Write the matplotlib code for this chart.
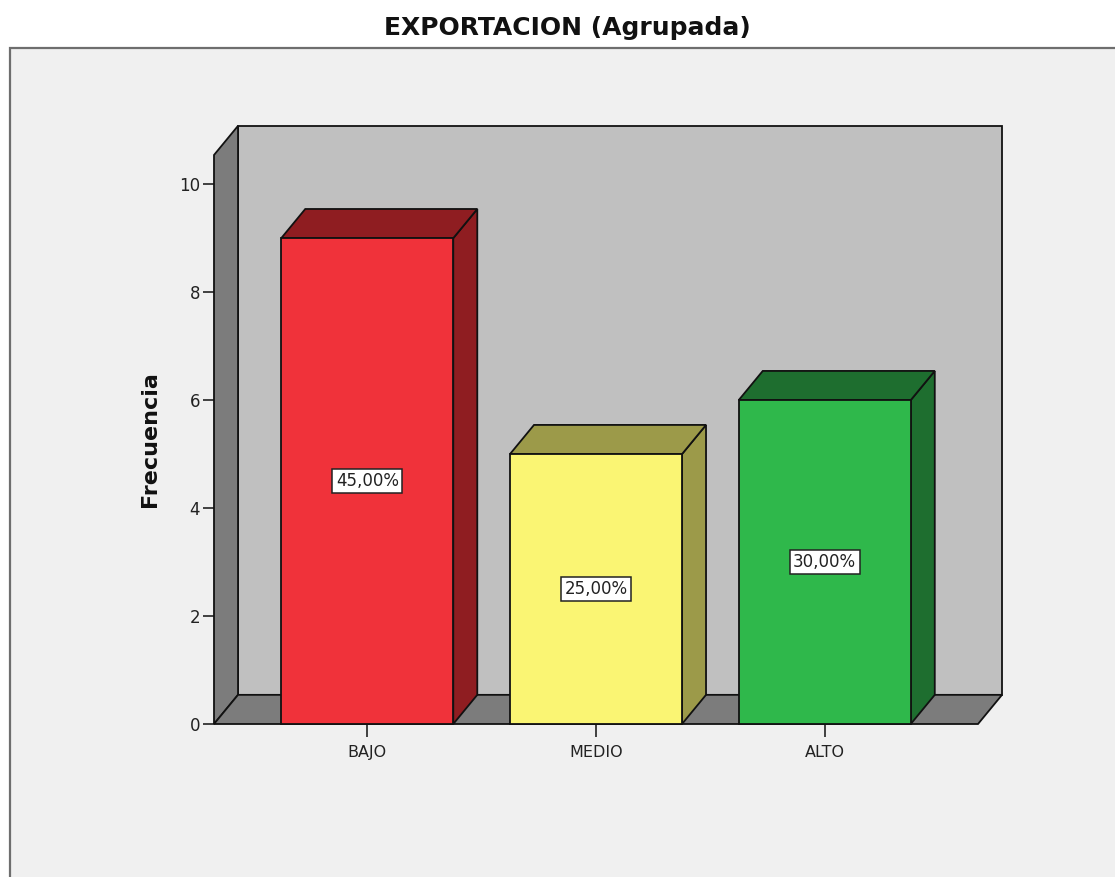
import matplotlib.pyplot as plt
from matplotlib.patches import Polygon, Rectangle

categorias = ['BAJO', 'MEDIO', 'ALTO']
frecuencias = [9, 5, 6]
porcentajes = ['45,00%', '25,00%', '30,00%']
yticks = [0, 2, 4, 6, 8, 10]

color_frente = ['#f0323a', '#faf573', '#2fb84b']
color_lado = ['#8f1d21', '#9c9a49', '#1e6e2f']

W, H = 1115, 877
fig = plt.figure(figsize=(W / 100, H / 100), dpi=100)
fig.patch.set_facecolor('white')

# panel gris de fondo
fig.add_artist(Rectangle((10 / W, -0.05), 1.2, (H - 48) / H + 0.05,
                         transform=fig.transFigure, facecolor='#f0f0f0',
                         edgecolor='#6e6e6e', lw=1.6, zorder=0))

fig.text(567 / W, 1 - 28 / H, 'EXPORTACION (Agrupada)', ha='center', va='center',
         fontsize=18, weight='bold', color='#111111')

ax = fig.add_axes([214 / W, (H - 724) / H, (978 - 214) / W, (724 - 155) / H])
ax.set_facecolor('none')
x0, x1 = -0.67, 2.67
ytop = 10.54
ax.set_xlim(x0, x1)
ax.set_ylim(0, ytop)
for s in ax.spines.values():
    s.set_visible(False)

# profundidad del efecto 3D (en unidades de datos)
dx, dy = 0.105, 0.54
ancho = 0.752
ec = dict(edgecolor='#111111', lw=1.3, joinstyle='miter', clip_on=False)

# pared del fondo, pared izquierda y suelo
ax.add_patch(Polygon([(x0 + dx, dy), (x1 + dx, dy), (x1 + dx, ytop + dy), (x0 + dx, ytop + dy)],
                     facecolor='#c0c0c0', zorder=1, **ec))
ax.add_patch(Polygon([(x0, 0), (x0 + dx, dy), (x0 + dx, ytop + dy), (x0, ytop)],
                     facecolor='#7c7c7c', zorder=2, **ec))
ax.add_patch(Polygon([(x0, 0), (x1, 0), (x1 + dx, dy), (x0 + dx, dy)],
                     facecolor='#7c7c7c', zorder=2, **ec))

for i, (v, p) in enumerate(zip(frecuencias, porcentajes)):
    l, r = i - ancho / 2, i + ancho / 2
    ax.add_patch(Polygon([(r, 0), (r + dx, dy), (r + dx, v + dy), (r, v)],
                         facecolor=color_lado[i], zorder=3, **ec))
    ax.add_patch(Polygon([(l, v), (r, v), (r + dx, v + dy), (l + dx, v + dy)],
                         facecolor=color_lado[i], zorder=3, **ec))
    ax.add_patch(Rectangle((l, 0), ancho, v, facecolor=color_frente[i], zorder=4, **ec))
    ax.text(i, v / 2, p, ha='center', va='center', fontsize=12, color='#222222', zorder=6,
            bbox=dict(boxstyle='square,pad=0.2', facecolor='white', edgecolor='#222222', lw=1.1))

ax.set_yticks(yticks)
ax.set_xticks(range(len(categorias)))
ax.set_xticklabels(categorias)
ax.tick_params(axis='y', length=8, width=1.2, colors='#222222', labelsize=12, pad=2)
ax.tick_params(axis='x', length=9, width=1.2, colors='#222222', labelsize=11.5, pad=6)
ax.set_ylabel('Frecuencia', fontsize=16, weight='bold', labelpad=14, color='#111111')

fig.savefig('out.png', dpi=100, facecolor=fig.get_facecolor())
